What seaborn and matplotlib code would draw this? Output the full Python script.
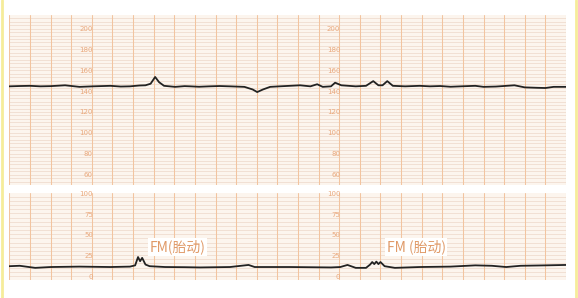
import numpy as np
import pandas as pd
import matplotlib
matplotlib.use("Agg")
import matplotlib.pyplot as plt
from matplotlib.lines import Line2D
import seaborn as sns

sns.set_style("white")
plt.rcParams['font.family'] = ['Noto Sans CJK SC', 'DejaVu Sans']

# ---- data (time in grid units / minutes) ----
fhr_time = [0, 0.5, 1.0, 1.5, 2.0, 2.7, 3.4, 4.05, 4.9, 5.4, 5.85, 6.3, 6.6, 6.85, 7.07, 7.26,
            7.5, 8.04, 8.5, 8.77, 9.2, 9.7, 10.2, 10.7, 11.4, 11.8, 12.02, 12.3, 12.65, 13.1,
            13.6, 14.1, 14.6, 14.93, 15.2, 15.6, 15.8, 16.1, 16.8, 17.3, 17.65, 17.9, 18.1,
            18.33, 18.6, 19.2, 19.9, 20.4, 20.9, 21.4, 21.9, 22.6, 23.0, 23.6, 24.5, 25.0,
            25.6, 26.0, 26.4, 27.0]
fhr_bpm = [145, 145.3, 145.5, 145, 145.2, 146, 144.5, 145, 145.5, 144.8, 145, 145.8, 146, 147.5,
           154, 149, 145.5, 144.5, 145.2, 145, 144.6, 145, 145.3, 145, 144.5, 142, 139.5, 142,
           144.5, 145, 145.5, 146, 145, 147, 144.5, 145, 148.5, 146, 145, 145.5, 150, 146, 146,
           150, 145.5, 145, 145.5, 145, 145.3, 144.6, 145, 145.5, 144.5, 144.8, 146, 144, 143.6,
           143.4, 144.5, 144.5]

toco_time = [0, 0.5, 1.25, 2.0, 3.4, 4.9, 5.85, 6.1, 6.24, 6.34, 6.44, 6.6, 6.8, 7.55, 8.5,
             9.25, 10.7, 11.6, 11.9, 13.6, 15.6, 16.05, 16.4, 16.8, 17.3, 17.5, 17.6, 17.7, 17.8,
             17.9, 18.0, 18.2, 18.7, 19.9, 21.4, 22.6, 23.4, 24.1, 24.8, 26.0, 27.0]
toco_val = [13, 13.5, 11, 12, 12.5, 12, 12.5, 14, 24, 19, 23, 15, 13, 12, 11.8,
            11.5, 12, 14.5, 12, 12, 11.5, 12, 14.5, 11, 11, 15, 18, 15.5, 18.5,
            15.5, 18, 13, 11, 12, 12.5, 14, 13.5, 12, 13.5, 14, 14.5]

fhr_ticks = [200, 180, 160, 140, 120, 100, 80, 60]
toco_ticks = [100, 75, 50, 25, 0]
label_cols = [4, 16]
annotations = [(6.8, 'FM(胎动)'), (18.3, 'FM (胎动)')]

fhr_df = pd.DataFrame({'t': fhr_time, 'v': fhr_bpm})
toco_df = pd.DataFrame({'t': toco_time, 'v': toco_val})

# ---- figure ----
W, H = 578, 298
fig = plt.figure(figsize=(W / 100, H / 100), dpi=100)
fig.patch.set_facecolor('white')

x0, x1 = 9.4 / W, 566 / W
ax1 = fig.add_axes([x0, 1 - 185 / H, x1 - x0, 170 / H])
ax2 = fig.add_axes([x0, 1 - 280 / H, x1 - x0, 87 / H])

paper = '#fcf5ee'
vcol = '#f2c4a0'
hcol = '#f0dccf'
lab_col = '#eaa97d'

for ax, ylo, yhi, hstep in [(ax1, 50.4, 213.4, 20 / 6), (ax2, -3.6, 101, 5)]:
    ax.set_facecolor(paper)
    ax.set_xlim(0, 27)
    ax.set_ylim(ylo, yhi)
    for s in ax.spines.values():
        s.set_visible(False)
    ax.set_xticks([])
    ax.set_yticks([])
    ys = np.arange(ylo, yhi + 0.01, hstep)
    for yy in ys:
        ax.axhline(yy, color=hcol, lw=0.6, zorder=0)
    for xx in range(0, 28):
        ax.axvline(xx, color=vcol, lw=0.75, zorder=0.5)

sns.lineplot(data=fhr_df, x='t', y='v', ax=ax1, color='#222222', lw=1.3, zorder=3)
sns.lineplot(data=toco_df, x='t', y='v', ax=ax2, color='#222222', lw=1.3, zorder=3)
for ax in (ax1, ax2):
    ax.set_xlabel('')
    ax.set_ylabel('')

for c in label_cols:
    for v in fhr_ticks:
        ax1.text(c + 0.05, v, str(v), ha='right', va='center', fontsize=5,
                 color=lab_col, zorder=2, family='DejaVu Sans')
    for v in toco_ticks:
        ax2.text(c + 0.05, v, str(v), ha='right', va='center', fontsize=5,
                 color=lab_col, zorder=2, family='DejaVu Sans')

for xt, txt in annotations:
    ax2.text(xt, 36, txt, ha='left', va='center', fontsize=10, color='#e09a68',
             zorder=4, bbox=dict(boxstyle='square,pad=0.1', fc='white', ec='none'))

# thin yellowish side edges
fig.add_artist(Line2D([1.5 / W, 1.5 / W], [0, 1], color='#f6ec9a', lw=2))
fig.add_artist(Line2D([1 - 2 / W, 1 - 2 / W], [0, 1], color='#f6ec9a', lw=2))

fig.savefig('out.png', dpi=100, facecolor='white')
